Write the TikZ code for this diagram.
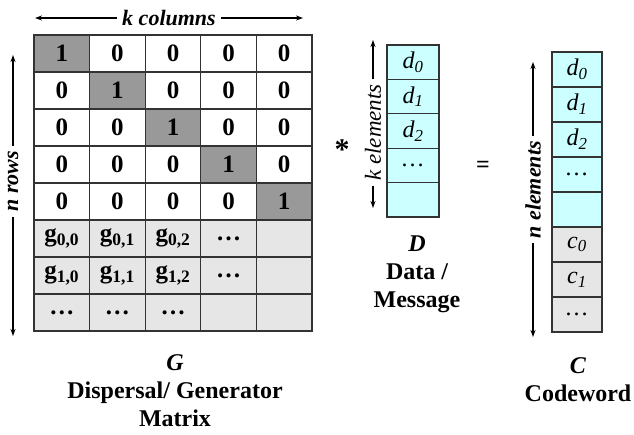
\documentclass[tikz,border=0pt]{standalone}
\usepackage{fontspec}
\setmainfont{Liberation Serif}
\usetikzlibrary{arrows.meta}
\definecolor{dg}{HTML}{999999}
\definecolor{lg}{HTML}{E6E6E6}
\definecolor{cy}{HTML}{CCFFFF}
\definecolor{ln}{HTML}{333333}
\begin{document}
\begin{tikzpicture}[x=1pt,y=-1pt,
  cell/.style={draw=ln, line width=1.3pt, minimum width=55.6pt, minimum height=37pt, inner sep=0pt,
    font=\fontsize{25}{28}\selectfont\bfseries},
  dcell/.style={draw=ln, line width=1.3pt, fill=cy, minimum width=52pt, minimum height=34.4pt, inner sep=0pt,
    font=\fontsize{24}{28}\selectfont\itshape},
  ccell/.style={draw=ln, line width=1.3pt, minimum width=50pt, minimum height=35pt, inner sep=0pt,
    font=\fontsize{24}{28}\selectfont\itshape},
  arr/.style={line width=1.3pt, {Stealth[length=7pt,width=5pt]}-{Stealth[length=7pt,width=5pt]}},
  lab/.style={fill=white, inner sep=5pt, font=\fontsize{22}{26}\selectfont\bfseries\itshape},
  captxt/.style={align=center, font=\fontsize{24}{28}\selectfont\bfseries}
]
\useasboundingbox (0,0) rectangle (634,434);

% Matrix G: identity part
\foreach \r in {1,...,5}{\foreach \c in {1,...,5}{
  \ifnum\r=\c \def\val{1}\def\fc{dg}\else\def\val{0}\def\fc{white}\fi
  \node[cell, fill=\fc] (g\r\c) at ({34+55.6*(\c-0.5)},{35+37*(\r-0.5)}) {\val};
}}
% Matrix G: generator rows
\node[cell, fill=lg] (g61) at ({34+55.6*0.5},{35+37*5.5}) {g\textsubscript{0,0}};
\node[cell, fill=lg] (g62) at ({34+55.6*1.5},{35+37*5.5}) {g\textsubscript{0,1}};
\node[cell, fill=lg] (g63) at ({34+55.6*2.5},{35+37*5.5}) {g\textsubscript{0,2}};
\node[cell, fill=lg] (g64) at ({34+55.6*3.5},{35+37*5.5}) {…};
\node[cell, fill=lg] (g65) at ({34+55.6*4.5},{35+37*5.5}) {};
\node[cell, fill=lg] (g71) at ({34+55.6*0.5},{35+37*6.5}) {g\textsubscript{1,0}};
\node[cell, fill=lg] (g72) at ({34+55.6*1.5},{35+37*6.5}) {g\textsubscript{1,1}};
\node[cell, fill=lg] (g73) at ({34+55.6*2.5},{35+37*6.5}) {g\textsubscript{1,2}};
\node[cell, fill=lg] (g74) at ({34+55.6*3.5},{35+37*6.5}) {…};
\node[cell, fill=lg] (g75) at ({34+55.6*4.5},{35+37*6.5}) {};
\node[cell, fill=lg] (g81) at ({34+55.6*0.5},{35+37*7.5}) {…};
\node[cell, fill=lg] (g82) at ({34+55.6*1.5},{35+37*7.5}) {…};
\node[cell, fill=lg] (g83) at ({34+55.6*2.5},{35+37*7.5}) {…};
\node[cell, fill=lg] (g84) at ({34+55.6*3.5},{35+37*7.5}) {};
\node[cell, fill=lg] (g85) at ({34+55.6*4.5},{35+37*7.5}) {};

% Arrows for G
\coordinate (kc1) at (35,18);
\coordinate (kc2) at (303,18);
\draw[arr] (kc1) -- (kc2) node[lab, midway] {k columns};
\coordinate (nr1) at (13,55);
\coordinate (nr2) at (13,336);
\draw[arr] (nr1) -- (nr2) node[lab, pos=0.45, rotate=90] {n rows};

% Vector D
\node[dcell] (d1) at (413,{45+34.4*0.5}) {d\textsubscript{0}};
\node[dcell] (d2) at (413,{45+34.4*1.5}) {d\textsubscript{1}};
\node[dcell] (d3) at (413,{45+34.4*2.5}) {d\textsubscript{2}};
\node[dcell] (d4) at (413,{45+34.4*3.5}) {…};
\node[dcell] (d5) at (413,{45+34.4*4.5}) {};
\coordinate (ke1) at (373,40);
\coordinate (ke2) at (373,208);
\draw[arr] (ke1) -- (ke2) node[lab, pos=0.55, rotate=90, font=\fontsize{23}{26}\selectfont\itshape] {k elements};

% Vector C
\node[ccell, fill=cy] (c1) at (577,{52+35*0.5}) {d\textsubscript{0}};
\node[ccell, fill=cy] (c2) at (577,{52+35*1.5}) {d\textsubscript{1}};
\node[ccell, fill=cy] (c3) at (577,{52+35*2.5}) {d\textsubscript{2}};
\node[ccell, fill=cy] (c4) at (577,{52+35*3.5}) {…};
\node[ccell, fill=cy] (c5) at (577,{52+35*4.5}) {};
\node[ccell, fill=lg] (c6) at (577,{52+35*5.5}) {c\textsubscript{0}};
\node[ccell, fill=lg] (c7) at (577,{52+35*6.5}) {c\textsubscript{1}};
\node[ccell, fill=lg] (c8) at (577,{52+35*7.5}) {…};
\coordinate (ne1) at (533,62);
\coordinate (ne2) at (533,337);
\draw[arr] (ne1) -- (ne2) node[lab, pos=0.465, rotate=90] {n elements};

% Operators
\node[font=\fontsize{30}{30}\selectfont\bfseries] (star) at (342,150) {*};
\node[font=\fontsize{24}{28}\selectfont\bfseries] (eq) at (483,167) {=};

% Captions
\node[captxt] (capG) at (175,391) {\textit{G}\\Dispersal/ Generator\\Matrix};
\node[captxt] (capD) at (417,274) {\textit{D}\\Data /\\Message};
\node[captxt] (capC) at (578,380) {\textit{C}\\Codeword};
\end{tikzpicture}
\end{document}
